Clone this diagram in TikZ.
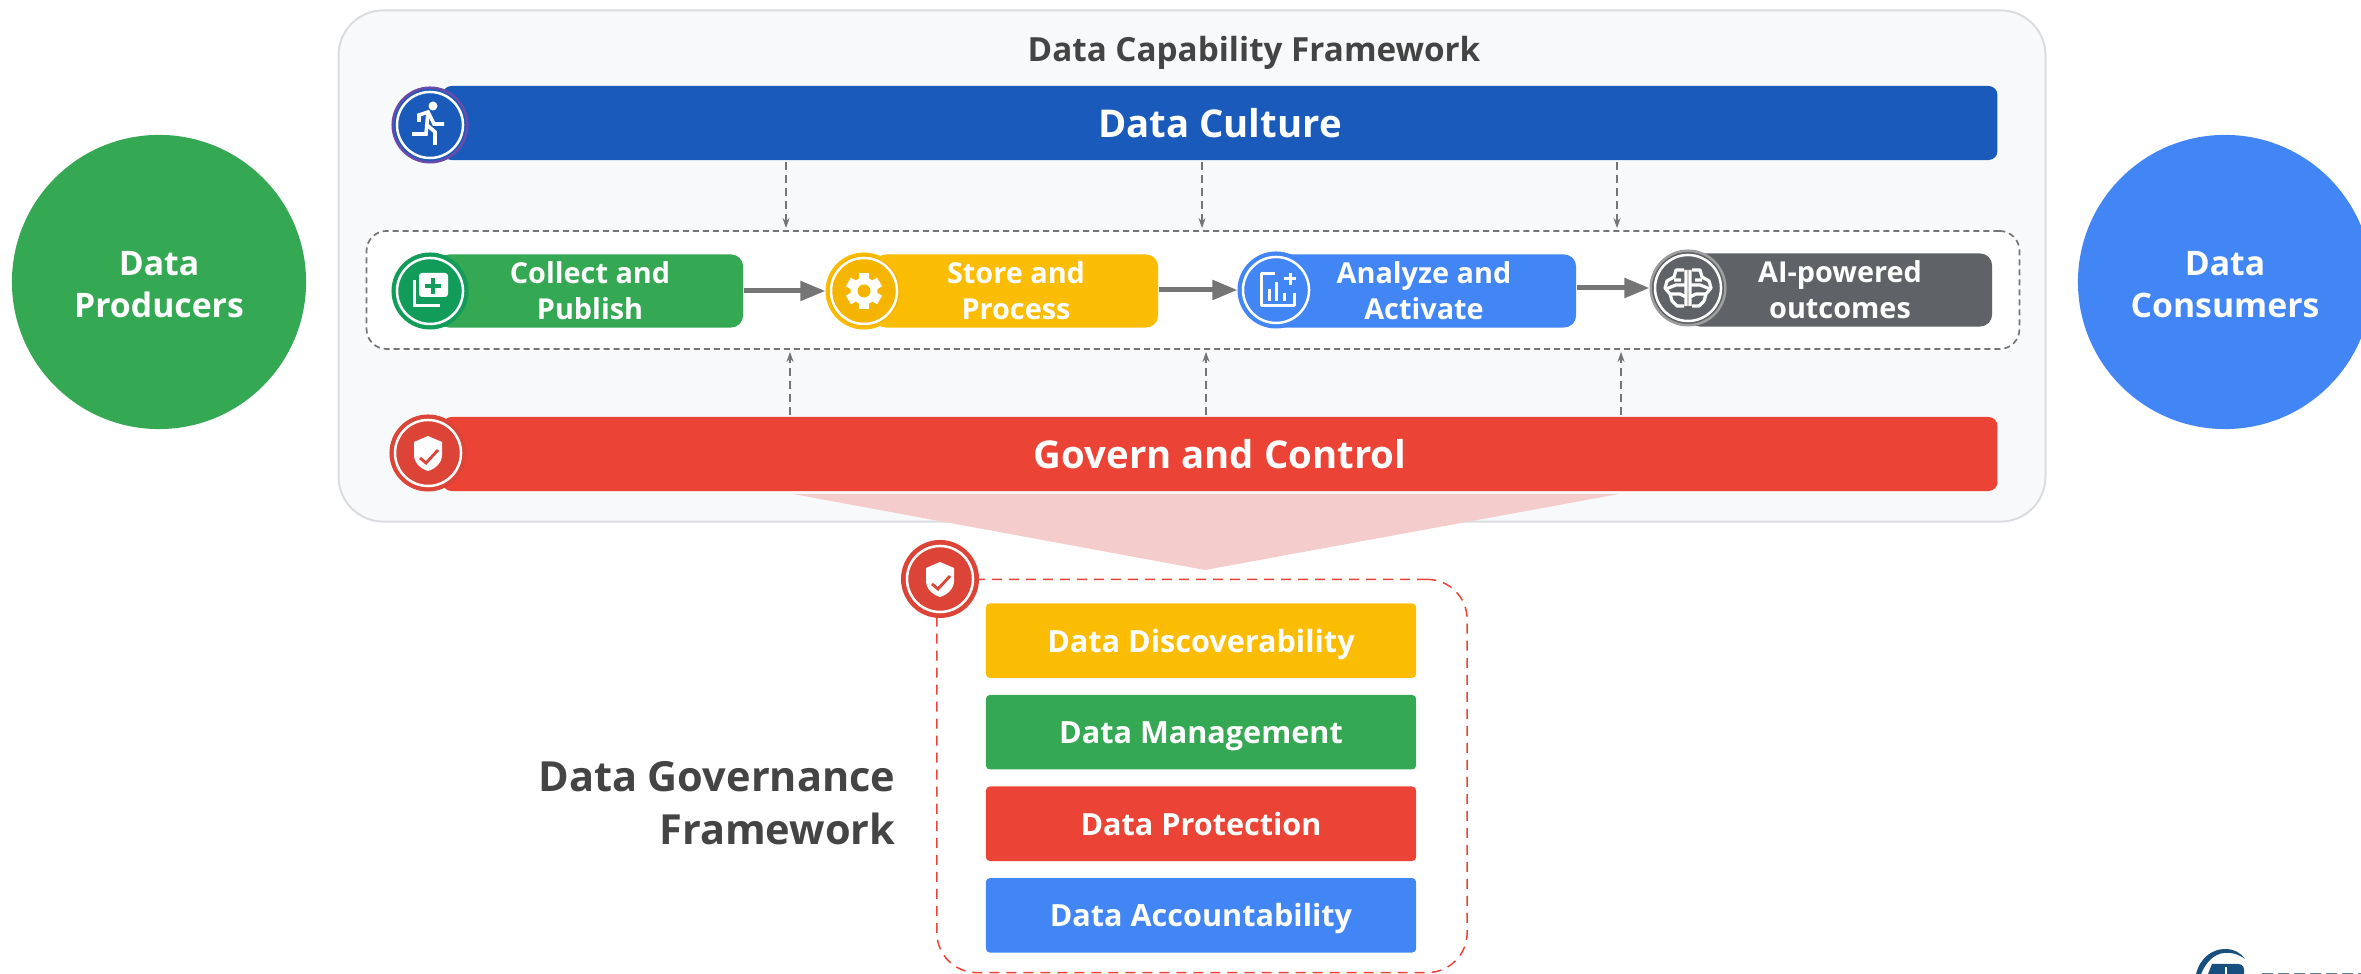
\documentclass[tikz,border=0pt]{standalone}
\usepackage{fontspec}
\setmainfont{Open Sans}
\usetikzlibrary{arrows.meta}

\definecolor{gblue}{HTML}{4285F4}
\definecolor{gdeep}{HTML}{1A5ABB}
\definecolor{ggreen}{HTML}{34A853}
\definecolor{gteal}{HTML}{129C5A}
\definecolor{gyellow}{HTML}{FBBC04}
\definecolor{gamber}{HTML}{F4B400}
\definecolor{gred}{HTML}{EB4335}
\definecolor{gbrick}{HTML}{DD4438}
\definecolor{gslate}{HTML}{5F6368}
\definecolor{gring}{HTML}{9E9E9E}
\definecolor{gviolet}{HTML}{6A4BAB}
\definecolor{gpanel}{HTML}{F8F9FA}
\definecolor{gedge}{HTML}{DADCE0}
\definecolor{gpink}{HTML}{F4CCCC}
\definecolor{ginkt}{HTML}{444444}
\definecolor{gdash}{HTML}{757575}
\definecolor{glogo}{HTML}{17507F}

\newcommand\iconrun{
\fill[white] (3,-19) circle (0.045cm);
\draw[white,line width=0.036cm] (-11,-3) -- (-11,-10) -- (-2,-13) -- (4,-1) -- (14,-1);
\draw[white,line width=0.036cm] (-2,-13) -- (-4,9) -- (-18,9);
\draw[white,line width=0.036cm] (-3,0) -- (5,7) -- (5,20);
}
\newcommand\iconpages{
\fill[white,rounded corners=0.03cm] (-11,-18) rectangle (18,6);
\draw[gteal,line width=0.035cm] (3,-13) -- (3,3) (-5,-5) -- (11,-5);
\draw[white,line width=0.03cm] (-16,-11) -- (-16,15) -- (10,15);
}
\newcommand\icongear[1]{
\foreach \k in {0,60,...,300} {
\fill[white,rotate=\k] (-5,-18) rectangle (5,-8);
}
\fill[white] (0,0) circle (0.135cm);
\fill[#1] (0,0) circle (0.065cm);
}
\newcommand\iconchart{
\draw[white,line width=0.03cm,line join=round] (-1,-16) -- (-15,-16) -- (-15,16) -- (18,16) -- (18,3);
\draw[white,line width=0.03cm] (-7,11) -- (-7,-1) (0,11) -- (0,-8) (8,11) -- (8,3) (14,-17) -- (14,-5) (8,-11) -- (20,-11);
}
\newcommand\iconbrain{
\foreach \s in {1,-1} {
\begin{scope}[xscale=\s]
\draw[white,line width=0.032cm,line join=round] (-4,-18) -- (-12,-18) -- (-14,-11) -- (-21,-7) -- (-23,0) -- (-18,6) -- (-16,13) -- (-11,18) -- (-4,18);
\draw[white,line width=0.032cm,line join=round] (-2,-18) -- (-2,18) (-14,-8) -- (-7,-8) (-22,1) -- (-12,-3) -- (-2,-3) (-17,6) -- (-8,6) -- (-2,9);
\end{scope}
}
}
\newcommand\iconshield[1]{
\fill[white] (0,-17) -- (14,-11) -- (14,2) .. controls (14,10) and (7,16) .. (0,18) .. controls (-7,16) and (-14,10) .. (-14,2) -- (-14,-11) -- cycle;
\draw[#1,line width=0.028cm] (-8,5) -- (-2,10) -- (10,-3);
}
\newcommand\badgering[1]{\draw[white,line width=0.025cm] (#1) circle (0.33cm);}

\begin{document}
\begin{tikzpicture}[
x=0.01cm, y=-0.01cm,
actor/.style={circle, fill=#1, minimum size=2.94cm, inner sep=0pt},
actortext/.style={text=white, inner sep=0pt, align=center, font=\fontsize{9.6}{12}\selectfont\bfseries},
bigbar/.style={rectangle, rounded corners=0.09cm, fill=#1, text=white, minimum width=15.54cm, minimum height=0.74cm, inner sep=0pt, text height=0.29cm, text depth=0pt, font=\fontsize{10.9}{13}\selectfont\bfseries},
stage/.style={rectangle, rounded corners=0.12cm, fill=#1, text=white, minimum height=0.73cm, inner sep=0pt, align=center, font=\fontsize{8.2}{10.3}\selectfont\bfseries},
pillar/.style={rectangle, rounded corners=0.04cm, fill=#1, text=white, minimum width=4.3cm, minimum height=0.745cm, inner sep=0pt, text height=0.23cm, text depth=0pt, font=\fontsize{8.7}{11}\selectfont\bfseries},
badge/.style 2 args={circle, fill=#1, draw=#2, line width=0.025cm, minimum size=0.745cm, inner sep=0pt},
heading/.style={text=ginkt, inner sep=0pt, font=\fontsize{9.45}{12}\selectfont\bfseries},
feed/.style={draw=gdash, line width=0.012cm, dash pattern=on 0.08cm off 0.05cm, shorten >=0.02cm, -{Stealth[length=0.1cm,width=0.07cm,inset=0.03cm]}},
push/.style={draw=gdash, line width=0.05cm, -{Triangle[length=0.25cm,width=0.19cm]}},
]
\useasboundingbox (0,0) rectangle (2361,974);

% the two sides
\node[actor=ggreen] (producers) at (159,282) {};
\node[actor=gblue] (consumers) at (2225,282) {};
\node[actortext] (producerstext) at (159,285) {Data\\Producers};
\node[actortext] (consumerstext) at (2225,285) {Data\\Consumers};

% capability panel
\node[rectangle, rounded corners=0.45cm, fill=gpanel, draw=gedge, line width=0.02cm, minimum width=17.06cm, minimum height=5.11cm] (panel) at (1192,266) {};
\node[heading] (paneltitle) at (1254,53) {Data Capability Framework};
\fill[gpink] (793,494) -- (1619,494) -- (1205,570) -- cycle;

\node[bigbar=gdeep] (culture) at (1220,123) {Data Culture};
\node[bigbar=gred] (govern) at (1220,454) {Govern and Control};
\node[rectangle, rounded corners=0.2cm, fill=white, draw=gdash, line width=0.017cm, dash pattern=on 0.06cm off 0.04cm, minimum width=16.52cm, minimum height=1.18cm] (lifecycle) at (1193,290) {};

\node[stage=ggreen, minimum width=3.06cm] (collect) at (590,291) {Collect and\\Publish};
\node[stage=gyellow, minimum width=2.84cm] (store) at (1016,291) {Store and\\Process};
\node[stage=gblue, minimum width=3.04cm] (analyze) at (1424,291) {Analyze and\\Activate};
\node[stage=gslate, minimum width=3.04cm] (outcomes) at (1840,290) {AI-powered\\outcomes};

\node[badge={gdeep}{gviolet}] (culturebadge) at (430,125) {};
\node[badge={gteal}{gteal}] (collectbadge) at (430,291) {};
\node[badge={gamber}{gyellow}] (storebadge) at (864,291) {};
\node[badge={gblue}{gblue}] (analyzebadge) at (1276,290) {};
\node[badge={gslate}{gring}] (outcomesbadge) at (1688,288) {};
\node[badge={gbrick}{gbrick}] (governbadge) at (428,453) {};

\badgering{culturebadge}
\badgering{collectbadge}
\badgering{storebadge}
\badgering{analyzebadge}
\badgering{outcomesbadge}
\badgering{governbadge}

\begin{scope}[shift={(culturebadge)}] \iconrun \end{scope}
\begin{scope}[shift={(collectbadge)}] \iconpages \end{scope}
\begin{scope}[shift={(storebadge)}] \icongear{gamber} \end{scope}
\begin{scope}[shift={(analyzebadge)}] \iconchart \end{scope}
\begin{scope}[shift={(outcomesbadge)}] \iconbrain \end{scope}
\begin{scope}[shift={(governbadge)}] \iconshield{gbrick} \end{scope}

\path
(collect.east |- storebadge.west) edge[push] (storebadge.west)
(store.east |- analyzebadge.west) edge[push] (analyzebadge.west)
(analyze.east |- outcomesbadge.west) edge[push] (outcomesbadge.west)
;

\coordinate (cu1) at (786,162);
\coordinate (cu2) at (1202,162);
\coordinate (cu3) at (1617,162);
\coordinate (gc1) at (790,415);
\coordinate (gc2) at (1206,415);
\coordinate (gc3) at (1621,415);

\path
(cu1) edge[feed] (cu1 |- lifecycle.north)
(cu2) edge[feed] (cu2 |- lifecycle.north)
(cu3) edge[feed] (cu3 |- lifecycle.north)
(gc1) edge[feed] (gc1 |- lifecycle.south)
(gc2) edge[feed] (gc2 |- lifecycle.south)
(gc3) edge[feed] (gc3 |- lifecycle.south)
;

% governance box
\node[rectangle, rounded corners=0.4cm, draw=gred, line width=0.015cm, dash pattern=on 0.1cm off 0.07cm, minimum width=5.3cm, minimum height=3.93cm] (governance) at (1202,776) {};
\node[heading, anchor=east, align=right, font=\fontsize{11.8}{15}\selectfont\bfseries] (govtitle) at (896,803) {Data Governance\\Framework};

\matrix[row sep=0.17cm] (pillars) at (1201,778) {
\node[pillar=gyellow] (discover) {Data Discoverability}; \\
\node[pillar=ggreen] (manage) {Data Management}; \\
\node[pillar=gred] (protect) {Data Protection}; \\
\node[pillar=gblue] (account) {Data Accountability}; \\
};

\node[badge={gbrick}{gbrick}, minimum size=0.755cm] (govbadge) at (940,579) {};
\badgering{govbadge}
\begin{scope}[shift={(govbadge)}] \iconshield{gbrick} \end{scope}

% clipped mark at the corner
\fill[glogo] (2196,974) .. controls (2200,958) and (2212,949) .. (2225,949) .. controls (2234,949) and (2241,953) .. (2245,959) .. controls (2238,954) and (2231,952) .. (2224,953) .. controls (2214,954) and (2206,962) .. (2201,974) -- cycle;
\fill[glogo] (2208,974) -- (2212,964) -- (2238,964) .. controls (2243,964) and (2245,968) .. (2244,974) -- cycle;
\draw[white, line width=0.02cm] (2226,974) -- (2226,967);
\draw[glogo!70, line width=0.02cm, dash pattern=on 0.11cm off 0.05cm] (2262,974) -- (2361,974);
\end{tikzpicture}
\end{document}
